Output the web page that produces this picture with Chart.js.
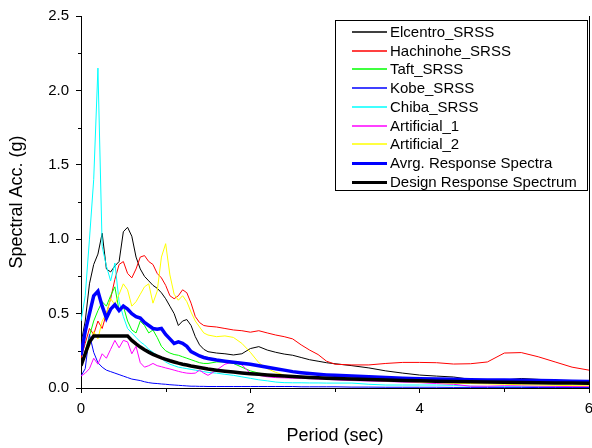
<!DOCTYPE html>
<html><head><meta charset="utf-8">
<script src="https://cdn.jsdelivr.net/npm/chart.js@4.4.1/dist/chart.umd.min.js"></script>
<style>html,body{margin:0;padding:0;background:#fff;overflow:hidden}</style>
</head><body>
<canvas id="c" width="592" height="448" style="display:block;width:592px;height:448px"></canvas>
<script>
// ---- data ----
const periods = [0,0.05,0.1,0.15,0.2,0.25,0.3,0.35,0.4,0.45,0.5,0.55,0.6,0.65,0.7,0.75,0.8,0.85,0.9,0.95,1.0,1.05,1.1,1.15,1.2,1.25,1.3,1.35,1.4,1.45,1.5,
  1.6,1.7,1.8,1.9,2.0,2.1,2.2,2.3,2.4,2.5,2.6,2.7,2.8,2.9,3.0,
  3.2,3.4,3.6,3.8,4.0,4.2,4.4,4.6,4.8,5.0,5.2,5.4,5.6,5.8,6.0];

const elcentro = [0.30,0.45,0.70,0.83,0.90,1.04,0.80,0.78,0.82,0.85,1.05,1.08,1.02,0.88,0.80,0.75,0.72,0.69,0.67,0.64,0.60,0.55,0.50,0.42,0.45,0.46,0.42,0.345,0.29,0.26,0.244,
  0.235,0.23,0.222,0.23,0.265,0.278,0.255,0.24,0.228,0.22,0.205,0.19,0.18,0.17,0.163,
  0.15,0.135,0.115,0.10,0.087,0.08,0.074,0.058,0.054,0.054,0.064,0.058,0.052,0.045,0.04];
const hachinohe = [0.2,0.3,0.4,0.36,0.45,0.40,0.50,0.60,0.73,0.83,0.85,0.77,0.74,0.80,0.88,0.89,0.85,0.83,0.77,0.74,0.69,0.62,0.60,0.62,0.66,0.64,0.57,0.48,0.44,0.42,0.415,
  0.41,0.40,0.39,0.385,0.375,0.385,0.37,0.356,0.345,0.33,0.29,0.255,0.225,0.18,0.16,
  0.155,0.155,0.165,0.172,0.172,0.17,0.161,0.163,0.175,0.235,0.238,0.21,0.175,0.14,0.12];
const taft = [0.15,0.25,0.35,0.45,0.52,0.58,0.55,0.62,0.68,0.52,0.55,0.45,0.39,0.37,0.45,0.42,0.37,0.39,0.34,0.28,0.25,0.235,0.225,0.22,0.21,0.20,0.19,0.18,0.17,0.165,0.165,
  0.175,0.175,0.165,0.14,0.115,0.10,0.09,0.085,0.08,0.075,0.072,0.07,0.067,0.065,0.062,
  0.058,0.055,0.05,0.047,0.045,0.043,0.042,0.04,0.04,0.038,0.037,0.036,0.035,0.034,0.033];
const kobe = [0.08,0.13,0.36,0.24,0.17,0.14,0.12,0.11,0.10,0.09,0.08,0.07,0.06,0.055,0.05,0.042,0.036,0.032,0.03,0.027,0.025,0.022,0.02,0.018,0.016,0.014,0.012,0.012,0.011,0.011,0.01,
  0.01,0.01,0.01,0.01,0.01,0.01,0.01,0.01,0.01,0.01,0.008,0.008,0.008,0.008,0.008,
  0.006,0.006,0.005,0.005,0.005,0.005,0.004,0.004,0.004,0.004,0.004,0.003,0.003,0.003,0.003];
const chiba = [0.45,0.62,1.0,1.4,2.15,0.95,0.82,0.72,0.84,0.58,0.48,0.40,0.37,0.34,0.31,0.29,0.26,0.24,0.22,0.20,0.175,0.16,0.15,0.14,0.135,0.13,0.125,0.12,0.115,0.11,0.105,
  0.10,0.092,0.085,0.075,0.065,0.055,0.048,0.04,0.036,0.035,0.035,0.034,0.034,0.033,0.033,
  0.033,0.025,0.02,0.02,0.02,0.02,0.018,0.012,0.01,0.01,0.01,0.01,0.01,0.01,0.01];
const artificial1 = [0.08,0.10,0.13,0.20,0.16,0.23,0.20,0.26,0.32,0.27,0.32,0.31,0.23,0.28,0.17,0.14,0.15,0.165,0.15,0.143,0.135,0.128,0.12,0.112,0.105,0.10,0.098,0.10,0.12,0.10,0.085,
  0.12,0.16,0.175,0.155,0.10,0.085,0.075,0.07,0.068,0.066,0.065,0.063,0.06,0.058,0.055,
  0.05,0.047,0.044,0.04,0.036,0.03,0.025,0.012,0.012,0.015,0.014,0.012,0.011,0.01,0.01];
const artificial2 = [0.15,0.22,0.28,0.38,0.33,0.45,0.50,0.60,0.56,0.63,0.70,0.66,0.55,0.58,0.63,0.68,0.70,0.57,0.65,0.88,0.97,0.76,0.63,0.59,0.62,0.58,0.51,0.45,0.41,0.37,0.356,
  0.345,0.35,0.34,0.30,0.24,0.17,0.13,0.105,0.087,0.08,0.075,0.07,0.066,0.063,0.06,
  0.056,0.052,0.048,0.044,0.04,0.036,0.032,0.03,0.027,0.025,0.022,0.02,0.018,0.016,0.015];
const average = [0.22,0.38,0.50,0.62,0.65,0.55,0.47,0.53,0.56,0.52,0.55,0.53,0.50,0.48,0.47,0.44,0.42,0.40,0.395,0.40,0.36,0.33,0.30,0.31,0.30,0.28,0.245,0.23,0.215,0.205,0.198,
  0.188,0.18,0.173,0.166,0.16,0.15,0.14,0.13,0.12,0.11,0.103,0.097,0.092,0.088,0.085,
  0.08,0.075,0.07,0.066,0.062,0.06,0.058,0.056,0.054,0.053,0.052,0.05,0.048,0.046,0.044];
const design = [0.15,0.23,0.31,0.35,0.35,0.35,0.35,0.35,0.35,0.35,0.35,0.35,0.32,0.296,0.275,0.257,0.241,0.226,0.214,0.203,0.193,0.183,0.175,0.167,0.160,0.154,0.148,0.143,0.138,0.133,0.128,
  0.120,0.113,0.107,0.101,0.096,0.092,0.088,0.084,0.080,0.077,0.074,0.071,0.069,0.066,0.064,
  0.060,0.057,0.053,0.051,0.048,0.046,0.044,0.042,0.040,0.039,0.037,0.036,0.034,0.033,0.032];

const seriesNames = ['Elcentro_SRSS','Hachinohe_SRSS','Taft_SRSS','Kobe_SRSS','Chiba_SRSS','Artificial_1','Artificial_2','Avrg. Response Spectra','Design Response Spectrum'];
const xTickValues = [0,2,4,6];
const yTickValues = [0,0.5,1.0,1.5,2.0,2.5];
const xTitle = 'Period (sec)';
const yTitle = 'Spectral Acc. (g)';

// ---- styles ----
const FONT = "'Liberation Sans', Arial, sans-serif";
const seriesValues = [elcentro,hachinohe,taft,kobe,chiba,artificial1,artificial2,average,design];
const colors = ['#000000','#ff0000','#00ff00','#0000ff','#00ffff','#ff00ff','#ffff00','#0000ff','#000000'];
const widths = [1,1,1,1,1,1,1,3.5,3.5];
const orders = [8,7,6,5,4,3,2,1,0];

const datasets = seriesNames.map((name,i)=>({
  label: name,
  data: periods.map((p,j)=>({x:p, y:seriesValues[i][j]})),
  borderColor: colors[i],
  backgroundColor: colors[i],
  borderWidth: widths[i],
  pointRadius: 0,
  tension: 0,
  fill: false,
  order: orders[i]
}));

const extras = {
  id:'extras',
  afterDraw(chart){
    const ctx = chart.ctx, a = chart.chartArea;
    const xs = chart.scales.x, ys = chart.scales.y;
    ctx.save();
    ctx.fillStyle = '#000';
    // right frame line
    ctx.fillRect(Math.round(a.right), Math.round(a.top), 1, Math.round(a.bottom - a.top)+1);
    // minor ticks
    for (let i=0;i<yTickValues.length-1;i++){
      const v=(yTickValues[i]+yTickValues[i+1])/2; const py=Math.round(ys.getPixelForValue(v));
      ctx.fillRect(Math.round(a.left)-3, py, 3, 1);
    }
    for (let i=0;i<xTickValues.length-1;i++){
      const v=(xTickValues[i]+xTickValues[i+1])/2; const px=Math.round(xs.getPixelForValue(v));
      ctx.fillRect(px, Math.round(a.bottom), 1, 4);
    }
    // legend box
    const bx=335, by=20, bw=252, bh=170;
    ctx.fillStyle='#fff'; ctx.fillRect(bx,by,bw,bh);
    ctx.fillStyle='#000';
    ctx.fillRect(bx,by,bw,1); ctx.fillRect(bx,by+bh,bw+1,1);
    ctx.fillRect(bx,by,1,bh); ctx.fillRect(bx+bw,by,1,bh);
    ctx.font = '15px ' + FONT; ctx.textBaseline='middle'; ctx.textAlign='left';
    seriesNames.forEach((name,i)=>{
      const y = Math.round(32 + i*18.7);
      const w = widths[i] > 1 ? 3 : 2;
      ctx.fillStyle = colors[i];
      ctx.globalAlpha = widths[i] > 1 ? 1 : 0.75;
      ctx.fillRect(352, y - 1, 35, w);
      ctx.globalAlpha = 1;
      ctx.fillStyle='#000'; ctx.fillText(name, 390, y+1);
    });
    ctx.restore();
  }
};

new Chart(document.getElementById('c'), {
  type:'line',
  data:{datasets},
  options:{
    responsive:false, animation:false, devicePixelRatio:1,
    layout:{padding:{top:16,right:3,left:0,bottom:0}},
    plugins:{legend:{display:false}, tooltip:{enabled:false}},
    scales:{
      x:{type:'linear', min:0, max:6,
        afterBuildTicks(s){ s.ticks = xTickValues.map(v=>({value:v})); },
        ticks:{color:'#000', font:{family:FONT,size:15}, padding:7, maxRotation:0, callback:v=>String(v)},
        grid:{drawOnChartArea:false, drawTicks:true, tickLength:5, color:'#000'},
        border:{display:true,color:'#000',width:1},
        title:{display:true,text:xTitle,color:'#000',font:{family:FONT,size:18},padding:{top:0,bottom:1}},
        afterFit(s){ s.height=60; s.paddingLeft=0; s.paddingRight=0; }
      },
      y:{type:'linear', min:0, max:2.5,
        afterBuildTicks(s){ s.ticks = yTickValues.map(v=>({value:v})); },
        ticks:{color:'#000', font:{family:FONT,size:15}, padding:7, callback:v=>v.toFixed(1)},
        grid:{drawOnChartArea:false, drawTicks:true, tickLength:5, color:'#000'},
        border:{display:true,color:'#000',width:1},
        title:{display:true,text:yTitle,color:'#000',font:{family:FONT,size:18},padding:{top:6,bottom:0}},
        afterFit(s){ s.width=81; s.paddingTop=0; s.paddingBottom=0; }
      }
    }
  },
  plugins:[extras]
});
</script>
</body></html>
